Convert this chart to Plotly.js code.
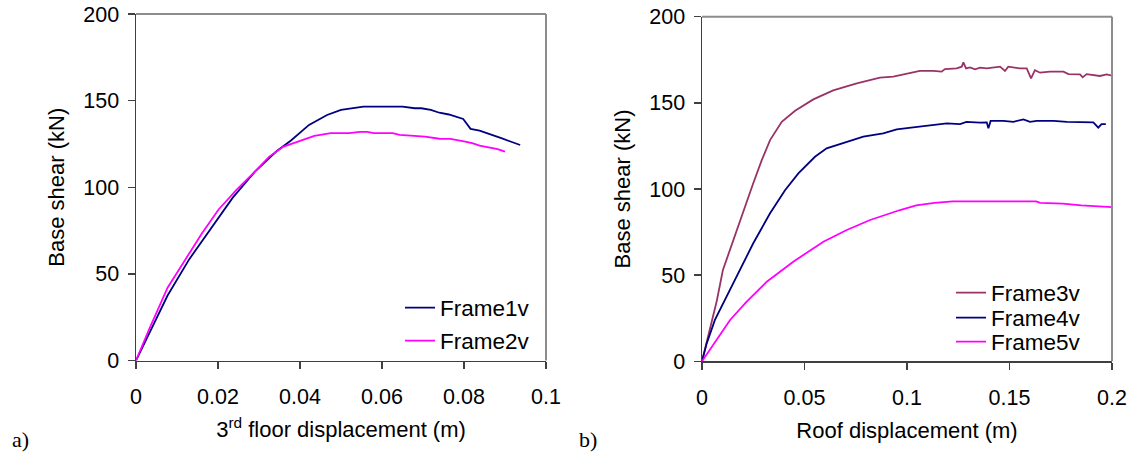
<!DOCTYPE html>
<html>
<head>
<meta charset="utf-8">
<script src="https://cdn.plot.ly/plotly-3.0.1.min.js"></script>
<style>
html,body{margin:0;padding:0;background:#fff;}
#chart{width:1141px;height:455px;}
</style>
</head>
<body>
<div id="chart"></div>
<script>
// ---- Panel a) : 3rd floor displacement ----
var frame1vX = [0, 0.0077, 0.013, 0.0192, 0.0236, 0.029, 0.0342, 0.0378, 0.0422, 0.0466, 0.050, 0.0555, 0.058, 0.065, 0.068, 0.0696, 0.0719, 0.074, 0.0763, 0.0798, 0.0816, 0.0838, 0.0891, 0.0937];
var frame1vY = [0, 37.5, 58.5, 79.5, 94, 109, 120.6, 127, 136, 141.7, 144.6, 146.5, 146.5, 146.5, 145.6, 145.6, 144.6, 143, 142, 139.4, 133.7, 132.7, 128.3, 124.4];

var frame2vX = [0, 0.0033, 0.0077, 0.0104, 0.0161, 0.0201, 0.0245, 0.029, 0.0325, 0.036, 0.0396, 0.0435, 0.0475, 0.052, 0.0546, 0.0564, 0.058, 0.0626, 0.0643, 0.0679, 0.0705, 0.074, 0.0767, 0.0803, 0.082, 0.0838, 0.0882, 0.090];
var frame2vY = [0, 18.5, 42, 52.3, 73.5, 87, 98.5, 109, 117.7, 123.5, 126.3, 129.6, 131.2, 131.2, 132, 132, 131.2, 131.2, 130.2, 129.8, 129.2, 128, 127.9, 126.3, 125.4, 124, 122, 120.6];

// ---- Panel b) : roof displacement ----
var frame3vX = [0, 0.0039, 0.0072, 0.0102, 0.0153, 0.0202, 0.025, 0.0291, 0.0332, 0.0389, 0.0454, 0.0543, 0.064, 0.0755, 0.0868, 0.0933, 0.0998, 0.1063, 0.1128, 0.1169, 0.1185, 0.1242, 0.1267, 0.1275, 0.1288, 0.1307, 0.1332, 0.1356, 0.1389, 0.1421, 0.1454, 0.1478, 0.1494, 0.1551, 0.1584, 0.1605, 0.1624, 0.1649, 0.1698, 0.1763, 0.1788, 0.1844, 0.1857, 0.1876, 0.1909, 0.1941, 0.1974, 0.2];
var frame3vY = [0, 18.6, 35, 53, 70.4, 87.8, 103.3, 116.6, 128.4, 139, 145.4, 152, 157.2, 161.3, 164.6, 165.2, 166.7, 168.5, 168.5, 168.1, 169.6, 170, 171, 173.5, 170, 170.6, 169.5, 170.4, 170, 170.6, 171, 168.5, 171, 170, 170, 164.2, 169, 167.5, 168.1, 168.1, 166.7, 166.5, 164.8, 166.7, 166.2, 165.6, 166.5, 165.8];

var frame4vX = [0, 0.0023, 0.0063, 0.012, 0.0185, 0.025, 0.0332, 0.0405, 0.047, 0.0551, 0.0608, 0.0706, 0.0787, 0.0884, 0.095, 0.103, 0.1112, 0.1194, 0.1259, 0.129, 0.1356, 0.1389, 0.1397, 0.1408, 0.147, 0.1519, 0.1568, 0.16, 0.1633, 0.1715, 0.178, 0.1844, 0.1909, 0.1933, 0.1949, 0.197];
var frame4vY = [0, 10.4, 24, 37.5, 53.2, 68.5, 85.9, 99.3, 109.1, 118.7, 123.6, 127.5, 130.4, 132.3, 134.6, 135.8, 137.1, 138.1, 137.7, 139, 138.5, 138.7, 135.2, 139.5, 139.5, 139, 140.4, 139, 139.5, 139.5, 139, 138.7, 138.7, 135.6, 137.7, 137.7];

var frame5vX = [0, 0.0055, 0.0137, 0.0218, 0.0316, 0.0445, 0.0592, 0.0706, 0.082, 0.0966, 0.1045, 0.1134, 0.1223, 0.1312, 0.149, 0.163, 0.165, 0.176, 0.185, 0.2];
var frame5vY = [0, 9.5, 24, 34.6, 46.2, 57.8, 69.4, 76.2, 82, 87.8, 90.5, 91.9, 92.8, 92.8, 92.8, 92.8, 92, 91.5, 90.5, 89.5];

// ---- tick labels ----
var xTicksA = [0, 0.02, 0.04, 0.06, 0.08, 0.1];
var xTickTextA = ["0", "0.02", "0.04", "0.06", "0.08", "0.1"];
var xTicksB = [0, 0.05, 0.1, 0.15, 0.2];
var xTickTextB = ["0", "0.05", "0.1", "0.15", "0.2"];
var yTicks = [0, 50, 100, 150, 200];
var yTickText = ["0", "50", "100", "150", "200"];

var NAVY = '#000080', MAGENTA = '#FF00FF', PLUM = '#993366';
var FONT = 'Liberation Sans, Arial, sans-serif';
var LW = 1.8;

var traces = [
  {x: frame1vX, y: frame1vY, name: 'Frame1v', mode: 'lines', line: {color: NAVY, width: LW}, xaxis: 'x', yaxis: 'y', legend: 'legend'},
  {x: frame2vX, y: frame2vY, name: 'Frame2v', mode: 'lines', line: {color: MAGENTA, width: LW}, xaxis: 'x', yaxis: 'y', legend: 'legend2'},
  {x: frame3vX, y: frame3vY, name: 'Frame3v', mode: 'lines', line: {color: PLUM, width: LW}, xaxis: 'x2', yaxis: 'y2', legend: 'legend3'},
  {x: frame4vX, y: frame4vY, name: 'Frame4v', mode: 'lines', line: {color: NAVY, width: LW}, xaxis: 'x2', yaxis: 'y2', legend: 'legend4'},
  {x: frame5vX, y: frame5vY, name: 'Frame5v', mode: 'lines', line: {color: MAGENTA, width: LW}, xaxis: 'x2', yaxis: 'y2', legend: 'legend5'}
];

function xAx(domain, range, tv, tt, title, anchor) {
  return {
    domain: domain, range: range, anchor: anchor,
    tickvals: tv, ticktext: tt,
    showline: true, linecolor: '#404040', linewidth: 1.5,
    ticks: 'outside', ticklen: 7, tickwidth: 1.5, tickcolor: '#404040',
    showgrid: false, zeroline: false,
    tickfont: {family: FONT, size: 21.5, color: '#000'},
    ticklabelstandoff: 9,
    title: {text: title, font: {family: FONT, size: 22, color: '#000'}, standoff: 14},
    fixedrange: true
  };
}
function yAx(domain, anchor) {
  return {
    domain: domain, range: [0, 200], anchor: anchor,
    tickvals: yTicks, ticktext: yTickText,
    showline: true, linecolor: '#404040', linewidth: 1.5,
    ticks: 'outside', ticklen: 7, tickwidth: 1.5, tickcolor: '#404040',
    showgrid: false, zeroline: false,
    tickfont: {family: FONT, size: 21.5, color: '#000'},
    ticklabelstandoff: 4,
    title: {text: 'Base shear (kN)', font: {family: FONT, size: 22, color: '#000'}, standoff: 12},
    fixedrange: true
  };
}
function leg(xpx, ypx) {
  return {x: xpx/1141, y: (455-ypx)/455, xanchor: 'left', yanchor: 'middle', bgcolor: 'rgba(0,0,0,0)',
          font: {family: FONT, size: 22.5, color: '#000'}, itemwidth: 30};
}

var borderLine = {color: '#8c8c8c', width: 2};
var layout = {
  width: 1141, height: 455,
  margin: {l: 0, r: 0, t: 0, b: 0},
  paper_bgcolor: '#fff', plot_bgcolor: '#fff',
  font: {family: FONT, color: '#000'},
  xaxis: xAx([136/1141, 546/1141], [0, 0.1], xTicksA, xTickTextA, '3<sup>rd</sup> floor displacement (m)', 'y'),
  yaxis: yAx([(455-360.5)/455, (455-14)/455], 'x'),
  xaxis2: xAx([702/1141, 1112/1141], [0, 0.2], xTicksB, xTickTextB, 'Roof displacement (m)', 'y2'),
  yaxis2: yAx([(455-361.3)/455, (455-16.7)/455], 'x2'),
  legend: leg(400, 308),
  legend2: leg(400, 341),
  legend3: leg(951, 293),
  legend4: leg(951, 318),
  legend5: leg(951, 342),
  shapes: [
    {type: 'line', xref: 'x domain', yref: 'y domain', x0: 0, x1: 1, y0: 1, y1: 1, line: borderLine},
    {type: 'line', xref: 'x domain', yref: 'y domain', x0: 1, x1: 1, y0: 0, y1: 1, line: borderLine},
    {type: 'line', xref: 'x2 domain', yref: 'y2 domain', x0: 0, x1: 1, y0: 1, y1: 1, line: borderLine},
    {type: 'line', xref: 'x2 domain', yref: 'y2 domain', x0: 1, x1: 1, y0: 0, y1: 1, line: borderLine}
  ],
  annotations: [
    {text: 'a)', xref: 'paper', yref: 'paper', x: 10/1141, y: (455-439)/455, xanchor: 'left', yanchor: 'middle', showarrow: false,
     font: {family: 'Liberation Serif, Times New Roman, serif', size: 22, color: '#000'}},
    {text: 'b)', xref: 'paper', yref: 'paper', x: 577/1141, y: (455-439)/455, xanchor: 'left', yanchor: 'middle', showarrow: false,
     font: {family: 'Liberation Serif, Times New Roman, serif', size: 22, color: '#000'}}
  ],
  showlegend: true
};

Plotly.newPlot('chart', traces, layout, {displayModeBar: false, staticPlot: true});
</script>
</body>
</html>
